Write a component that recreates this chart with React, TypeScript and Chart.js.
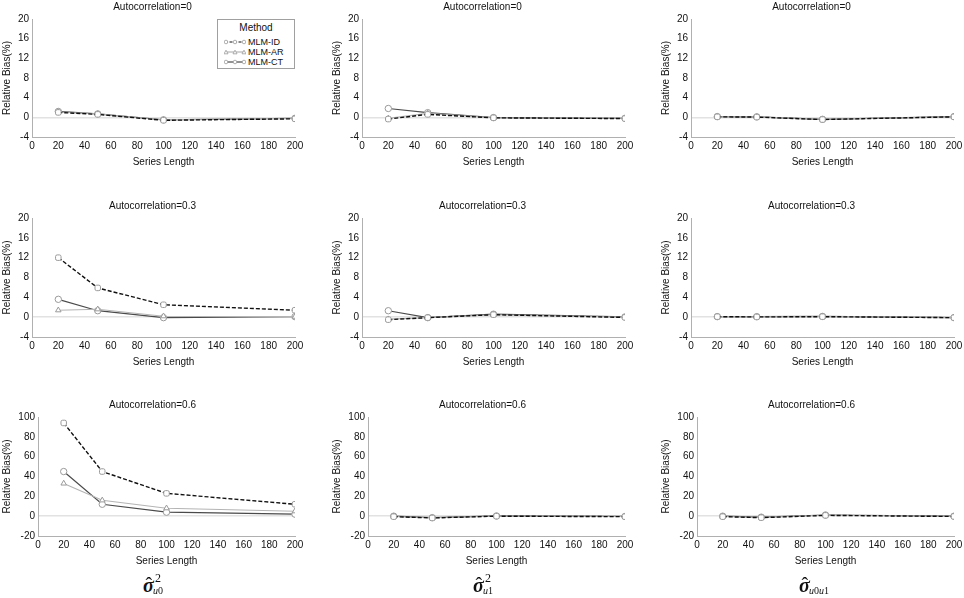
import { useEffect, useRef } from 'react';
import { Chart, registerables } from 'chart.js';

Chart.register(...registerables);

const seriesLength = [20, 50, 100, 200];

// sigma^2 u0
const u0Ac0Id = [1.0, 0.6, -0.6, -0.3];
const u0Ac0Ar = [1.1, 0.7, -0.5, -0.2];
const u0Ac0Ct = [1.2, 0.7, -0.5, -0.2];
const u0Ac3Id = [12.0, 5.9, 2.5, 1.4];
const u0Ac3Ar = [1.4, 1.6, 0.2, 0.1];
const u0Ac3Ct = [3.6, 1.3, -0.1, 0.1];
const u0Ac6Id = [94, 45, 23, 12];
const u0Ac6Ar = [33, 16, 8, 5];
const u0Ac6Ct = [45, 12, 4, 2];

// sigma^2 u1
const u1Ac0Id = [-0.35, 0.6, -0.1, -0.25];
const u1Ac0Ar = [-0.2, 0.8, -0.1, -0.2];
const u1Ac0Ct = [1.8, 0.95, -0.05, -0.2];
const u1Ac3Id = [-0.5, -0.1, 0.5, -0.05];
const u1Ac3Ar = [-0.4, -0.1, 0.5, 0];
const u1Ac3Ct = [1.3, -0.1, 0.6, 0.05];
const u1Ac6Id = [-0.5, -1.8, 0, -0.5];
const u1Ac6Ar = [-0.3, -1.6, 0.1, -0.4];
const u1Ac6Ct = [0, -1.5, 0.2, -0.3];

// sigma u0u1
const u01Ac0Id = [0.1, 0.05, -0.45, 0.1];
const u01Ac0Ar = [0.1, 0.1, -0.4, 0.1];
const u01Ac0Ct = [0.15, 0.1, -0.4, 0.15];
const u01Ac3Id = [0.1, 0.05, 0.1, -0.1];
const u01Ac3Ar = [0.1, 0.05, 0.1, -0.05];
const u01Ac3Ct = [0.1, 0.1, 0.15, -0.1];
const u01Ac6Id = [-0.5, -1.5, 0.8, -0.3];
const u01Ac6Ar = [-0.3, -1.2, 1.0, -0.2];
const u01Ac6Ct = [0, -1.0, 1.2, 0];

const methodNames = ['MLM-ID', 'MLM-AR', 'MLM-CT'];

const FONT = "'Liberation Sans', Arial, sans-serif";
const SERIF = "'Liberation Serif', 'Times New Roman', serif";
const TEXT = '#111';

interface PanelProps {
  left: number;
  top: number;
  height: number;
  title: string;
  yMin: number;
  yMax: number;
  yStep: number;
  yWidth: number;
  id: number[];
  ar: number[];
  ct: number[];
}

const toPoints = (vals: number[]) => seriesLength.map((x, i) => ({ x, y: vals[i] }));

const Panel = ({ left, top, height, title, yMin, yMax, yStep, yWidth, id, ar, ct }: PanelProps) => {
  const canvasRef = useRef<HTMLCanvasElement>(null);

  useEffect(() => {
    if (!canvasRef.current) return;
    const marker = {
      pointRadius: 3.2,
      pointBorderColor: '#9a9a9a',
      pointBackgroundColor: '#ffffff',
      pointBorderWidth: 1,
    };
    const chart = new Chart(canvasRef.current, {
      type: 'line',
      data: {
        datasets: [
          {
            label: methodNames[0],
            data: toPoints(id),
            borderColor: '#111',
            borderWidth: 1.4,
            borderDash: [4, 2],
            pointStyle: 'rectRounded',
            ...marker,
          },
          {
            label: methodNames[1],
            data: toPoints(ar),
            borderColor: '#b4b4b4',
            borderWidth: 1.1,
            pointStyle: 'triangle',
            ...marker,
          },
          {
            label: methodNames[2],
            data: toPoints(ct),
            borderColor: '#4a4a4a',
            borderWidth: 1.2,
            pointStyle: 'circle',
            ...marker,
          },
        ],
      },
      options: {
        animation: false,
        responsive: true,
        maintainAspectRatio: false,
        layout: { padding: 0 },
        plugins: {
          legend: { display: false },
          tooltip: { enabled: false },
          title: {
            display: true,
            text: title,
            color: TEXT,
            font: { family: FONT, size: 10, weight: 'normal' },
            padding: { top: 1, bottom: 6 },
          },
        },
        scales: {
          x: {
            type: 'linear',
            min: 0,
            max: 200,
            ticks: { stepSize: 20, padding: 3, color: TEXT, font: { family: FONT, size: 10 } },
            grid: { display: false, drawTicks: false },
            border: { display: true, color: '#b0b0b0', width: 1 },
            title: {
              display: true,
              text: 'Series Length',
              color: TEXT,
              font: { family: FONT, size: 10 },
              padding: { top: 0, bottom: 7 },
            },
            afterFit: (scale) => {
              scale.height = 38;
              scale.paddingLeft = 0;
              scale.paddingRight = 10;
            },
          },
          y: {
            min: yMin,
            max: yMax,
            ticks: { stepSize: yStep, padding: 3, color: TEXT, font: { family: FONT, size: 10 } },
            grid: {
              drawTicks: false,
              color: (c) => (c.tick && c.tick.value === 0 ? '#e2e2e2' : 'rgba(0,0,0,0)'),
              lineWidth: 1.5,
            },
            border: { display: true, color: '#b0b0b0', width: 1 },
            title: {
              display: true,
              text: 'Relative Bias(%)',
              color: TEXT,
              font: { family: FONT, size: 10 },
              padding: { top: 1, bottom: 0 },
            },
            afterFit: (scale) => {
              scale.width = yWidth;
            },
          },
        },
      },
    });
    return () => {
      chart.destroy();
    };
  }, [title, yMin, yMax, yStep, yWidth, id, ar, ct]);

  return (
    <div style={{ position: 'absolute', left, top, width: 305, height }}>
      <canvas ref={canvasRef} />
    </div>
  );
};

const LegendSample = ({ kind }: { kind: number }) => {
  const stroke = kind === 0 ? '#111' : kind === 1 ? '#b4b4b4' : '#4a4a4a';
  return (
    <svg width="22" height="8" style={{ display: 'block' }}>
      <line x1="1" y1="4" x2="21" y2="4" stroke={stroke} strokeWidth="1.2" strokeDasharray={kind === 0 ? '3 1.5' : undefined} />
      {[2, 11, 20].map((cx) =>
        kind === 1 ? (
          <polygon key={cx} points={`${cx - 2},5.8 ${cx + 2},5.8 ${cx},2.2`} fill="#fff" stroke="#9a9a9a" strokeWidth="0.8" />
        ) : (
          <circle key={cx} cx={cx} cy="4" r="1.8" fill="#fff" stroke="#9a9a9a" strokeWidth="0.8" />
        )
      )}
    </svg>
  );
};

const MethodLegend = () => (
  <div
    style={{
      position: 'absolute',
      left: 217,
      top: 19,
      width: 76,
      height: 48,
      border: '1px solid #a0a0a0',
      background: '#fff',
      fontFamily: FONT,
      color: TEXT,
    }}
  >
    <div style={{ fontSize: 10, lineHeight: '12px', textAlign: 'center', paddingTop: 1.5 }}>Method</div>
    <div style={{ paddingTop: 3 }}>
      {methodNames.map((name, i) => (
        <div key={name} style={{ display: 'flex', alignItems: 'center', height: 10, paddingLeft: 6 }}>
          <LegendSample kind={i} />
          <span style={{ fontSize: 9, marginLeft: 2 }}>{name}</span>
        </div>
      ))}
    </div>
  </div>
);

const Estimator = ({ left, sup, sub }: { left: number; sup: string; sub: string }) => (
  <div style={{ position: 'absolute', left, top: 0, fontFamily: SERIF, color: TEXT }}>
    <span style={{ position: 'absolute', left: 0, top: 575, fontSize: 20, lineHeight: '20px', fontStyle: 'italic', fontWeight: 'bold' }}>
      σ
    </span>
    <span style={{ position: 'absolute', left: 2.5, top: 575, fontSize: 20, lineHeight: '20px' }}>ˆ</span>
    {sup && (
      <span style={{ position: 'absolute', left: 12, top: 572, fontSize: 12, lineHeight: '12px' }}>{sup}</span>
    )}
    <span style={{ position: 'absolute', left: 10, top: 585.5, fontSize: 10, lineHeight: '10px', whiteSpace: 'nowrap' }}>
      {sub.split('').map((ch, i) => (
        <span key={i} style={{ fontStyle: ch === 'u' ? 'italic' : 'normal' }}>{ch}</span>
      ))}
    </span>
  </div>
);

const colLeft = [0, 330, 659];
const rowTop = [0, 199, 398];
const rowHeight = [175, 176, 176];
const acTitles = ['Autocorrelation=0', 'Autocorrelation=0.3', 'Autocorrelation=0.6'];

const panels = [
  [
    [u0Ac0Id, u0Ac0Ar, u0Ac0Ct],
    [u0Ac3Id, u0Ac3Ar, u0Ac3Ct],
    [u0Ac6Id, u0Ac6Ar, u0Ac6Ct],
  ],
  [
    [u1Ac0Id, u1Ac0Ar, u1Ac0Ct],
    [u1Ac3Id, u1Ac3Ar, u1Ac3Ct],
    [u1Ac6Id, u1Ac6Ar, u1Ac6Ct],
  ],
  [
    [u01Ac0Id, u01Ac0Ar, u01Ac0Ct],
    [u01Ac3Id, u01Ac3Ar, u01Ac3Ct],
    [u01Ac6Id, u01Ac6Ar, u01Ac6Ct],
  ],
];

export default function App() {
  return (
    <div style={{ position: 'absolute', left: 0, top: 0, width: 964, height: 598, background: '#fff', overflow: 'hidden' }}>
      {panels.map((col, c) =>
        col.map((sets, r) => (
          <Panel
            key={`${c}-${r}`}
            left={colLeft[c]}
            top={rowTop[r]}
            height={rowHeight[r]}
            title={acTitles[r]}
            yMin={r === 2 ? -20 : -4}
            yMax={r === 2 ? 100 : 20}
            yStep={r === 2 ? 20 : 4}
            yWidth={r === 2 ? 38 : 32}
            id={sets[0]}
            ar={sets[1]}
            ct={sets[2]}
          />
        ))
      )}
      <MethodLegend />
      <Estimator left={143} sup="2" sub="u0" />
      <Estimator left={473} sup="2" sub="u1" />
      <Estimator left={799} sup="" sub="u0u1" />
    </div>
  );
}
